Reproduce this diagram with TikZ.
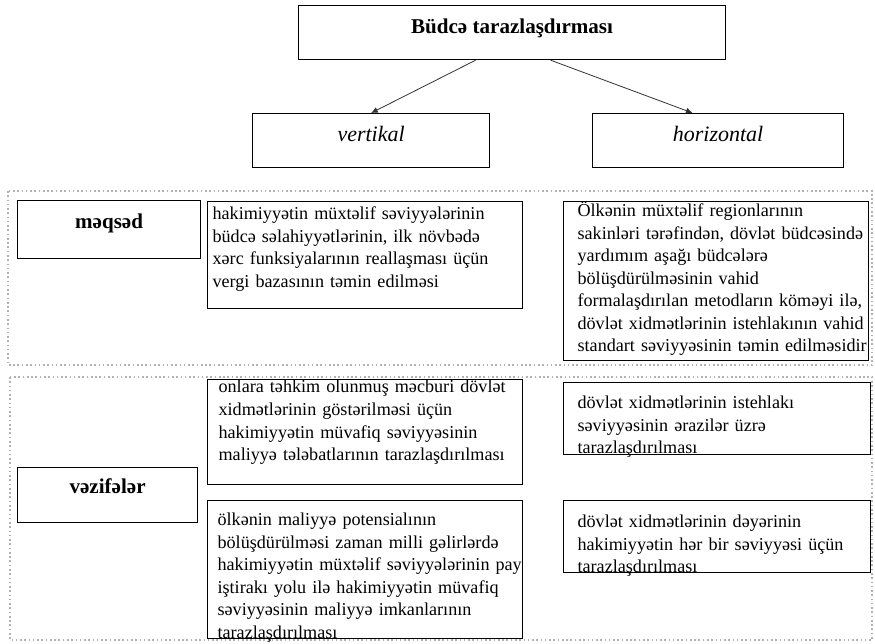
\documentclass[tikz,border=0pt]{standalone}
\usepackage{fontspec}
\setmainfont{Liberation Serif}
\usetikzlibrary{arrows.meta}
\newcommand\padleft[1]{\leftskip=#1\rightskip=-30pt plus 1fil\relax}
\tikzset{
  box/.style={draw, line width=0.9pt, inner sep=0pt, anchor=north west},
  headbox/.style={box, align=center, font=\fontsize{15.8}{19}\selectfont\bfseries},
  kindbox/.style={box, align=center, font=\fontsize{16.5}{20}\selectfont\itshape, text height=21pt, text depth=19.5pt},
  textbox/.style={box, align=left, font=\fontsize{13.6}{16.9}\selectfont},
  frame/.style={draw=gray!60, line width=1.2pt, dotted},
  link/.style={draw=black!80, line width=0.6pt, -{Latex[length=5pt,width=4.5pt]}}
}
\begin{document}
\begin{tikzpicture}[x=0.75pt,y=-0.75pt]
    \fill[white] (0,0) rectangle (875,643);
    \useasboundingbox (0,0) rectangle (875,643);
    % Frames
    \draw[frame] (8,191) rectangle (872,365);
    \draw[frame] (10,377) rectangle (872,640);
    % Head
    \node[headbox, minimum width=320.25pt, text height=21pt, text depth=19.5pt] (budget) at (298,5) {Büdcə tarazlaşdırması};
    \node[kindbox, minimum width=177.75pt] (vert) at (252,113) {vertikal};
    \node[kindbox, minimum width=188.25pt] (horiz) at (592,113) {horizontal};
    \draw[link] ([xshift=-27.4pt]budget.south) -- (vert.north);
    \draw[link] ([xshift=28.9pt]budget.south) -- ([xshift=-19.1pt]horiz.north);
    % Goal
    \node[headbox, minimum width=137.25pt, text height=21pt, text depth=22.5pt] (goal) at (17,200) {məqsəd};
    \node[textbox, text width=236.25pt, text height=13.5pt, text depth=66.75pt] (goalv) at (207,201)
      {\padleft{3.75pt}hakimiyyətin müxtəlif səviyyələrinin\\ büdcə səlahiyyətlərinin, ilk növbədə\\ xərc funksiyalarının reallaşması üçün\\ vergi bazasının təmin edilməsi\par};
    \node[textbox, text width=228.75pt, text height=11.25pt, text depth=108pt] (goalh) at (563,201)
      {\padleft{10.5pt}Ölkənin müxtəlif regionlarının\\ sakinləri tərəfindən, dövlət büdcəsində\\ yardımım aşağı büdcələrə\\ bölüşdürülməsinin vahid\\ formalaşdırılan metodların köməyi ilə,\\ dövlət xidmətlərinin istehlakının vahid\\ standart səviyyəsinin təmin edilməsidir\par};
    % Tasks
    \node[headbox, minimum width=135pt, text height=19.5pt, text depth=21.75pt] (task) at (17,467) {vəzifələr};
    \node[textbox, text width=236.25pt, text height=10pt, text depth=68.75pt] (taskva) at (207,379)
      {\padleft{8.25pt}onlara təhkim olunmuş məcburi dövlət\\ xidmətlərinin göstərilməsi üçün\\ hakimiyyətin müvafiq səviyyəsinin\\ maliyyə tələbatlarının tarazlaşdırılması\par};
    \node[textbox, text width=236.25pt, text height=18.75pt, text depth=84.75pt] (taskvb) at (207,500)
      {\padleft{7.5pt}ölkənin maliyyə potensialının\\ bölüşdürülməsi zaman milli gəlirlərdə\\ hakimiyyətin müxtəlif səviyyələrinin pay\\ iştirakı yolu ilə hakimiyyətin müvafiq\\ səviyyəsinin maliyyə imkanlarının\\ tarazlaşdırılması\par};
    \node[textbox, text width=230.25pt, text height=19.5pt, text depth=34.5pt] (taskha) at (563,382)
      {\padleft{10.5pt}dövlət xidmətlərinin istehlakı\\ səviyyəsinin ərazilər üzrə\\ tarazlaşdırılması\par};
    \node[textbox, text width=230.25pt, text height=20.25pt, text depth=33.75pt] (taskhb) at (563,500)
      {\padleft{10.5pt}dövlət xidmətlərinin dəyərinin\\ hakimiyyətin hər bir səviyyəsi üçün\\ tarazlaşdırılması\par};
\end{tikzpicture}
\end{document}
